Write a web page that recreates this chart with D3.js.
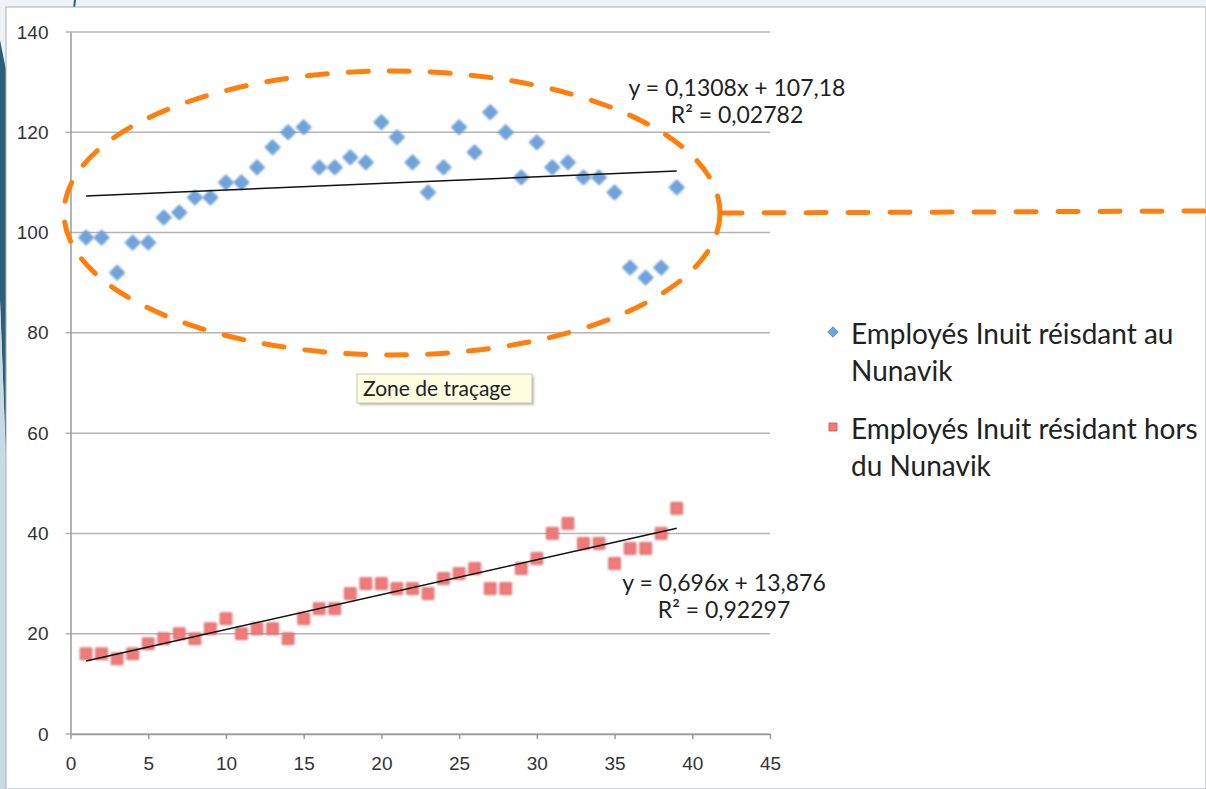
<!DOCTYPE html>
<html>
<head>
<meta charset="utf-8">
<script src="https://cdn.jsdelivr.net/npm/d3@7"></script>
<style>
  body { margin: 0; background: #eef3f6; }
  svg { display: block; font-family: Lato, "Open Sans", sans-serif; }
</style>
</head>
<body>
<svg width="1206" height="789"></svg>
<script>
// données
const xValues = d3.range(1, 40);
const inuitNunavik = [99, 99, 92, 98, 98, 103, 104, 107, 107, 110, 110, 113, 117, 120, 121, 113, 113, 115, 114, 122,
                      119, 114, 108, 113, 121, 116, 124, 120, 111, 118, 113, 114, 111, 111, 108, 93, 91, 93, 109];
const inuitHors = [16, 16, 15, 16, 18, 19, 20, 19, 21, 23, 20, 21, 21, 19, 23, 25, 25, 28, 30, 30,
                   29, 29, 28, 31, 32, 33, 29, 29, 33, 35, 40, 42, 38, 38, 34, 37, 37, 40, 45];
const trendNunavik = { slope: 0.1308, intercept: 107.18 };
const trendHors = { slope: 0.696, intercept: 13.876 };
const labelsNunavik = ["y = 0,1308x + 107,18", "R² = 0,02782"];
const labelsHors = ["y = 0,696x + 13,876", "R² = 0,92297"];
const xTicks = [0, 5, 10, 15, 20, 25, 30, 35, 40, 45];
const yTicks = [0, 20, 40, 60, 80, 100, 120, 140];
const legendNames = [["Employés Inuit réisdant au", "Nunavik"], ["Employés Inuit résidant hors", "du Nunavik"]];

const svg = d3.select("svg");
const width = +svg.attr("width");
const height = +svg.attr("height");

// fond et décor du bord gauche
svg.append("rect").attr("width", width).attr("height", height).attr("fill", "#eef3f6");
svg.append("path").attr("d", "M0,40 L6,70 L6,460 L0,300 Z").attr("fill", "#2f5f78");
svg.append("path").attr("d", "M0,300 L6,460 L6,789 L0,789 Z").attr("fill", "#c9dae4");
svg.append("path").attr("d", "M74,0 L76,0 L75,8 L73,8 Z").attr("fill", "#2f5f78");
svg.append("rect").attr("x", 6).attr("y", 7).attr("width", width - 6).attr("height", height - 7)
    .attr("fill", "#fff").attr("stroke", "#a9b0b5").attr("stroke-width", 1);

const x = d3.scaleLinear().domain([0, 45]).range([70.5, 770]);
const y = d3.scaleLinear().domain([0, 140]).range([734, 32]);

// quadrillage
svg.append("g")
    .selectAll("line")
    .data(yTicks)
    .join("line")
    .attr("x1", x(0) - 5)
    .attr("x2", x(45))
    .attr("y1", d => y(d))
    .attr("y2", d => y(d))
    .attr("stroke", "#b4b4b4")
    .attr("stroke-width", 1.5);

// axes
const yAxis = svg.append("g").attr("transform", `translate(${x(0)},0)`)
    .call(d3.axisLeft(y).tickValues(yTicks).tickSize(0).tickPadding(22));
yAxis.select(".domain").attr("stroke", "#9a9a9a").attr("stroke-width", 1.5);
yAxis.selectAll("text").attr("font-size", 19).attr("fill", "#333");

const xAxis = svg.append("g").attr("transform", `translate(0,${y(0)})`)
    .call(d3.axisBottom(x).tickValues(xTicks).tickSize(5).tickPadding(18).tickSizeOuter(0));
xAxis.select(".domain").attr("stroke", "#9a9a9a").attr("stroke-width", 1.5);
xAxis.selectAll(".tick line").attr("stroke", "#9a9a9a").attr("stroke-width", 1.5);
xAxis.selectAll("text").attr("font-size", 19).attr("fill", "#333");

// ombre douce des marqueurs
const defs = svg.append("defs");
defs.append("filter").attr("id", "flou")
    .attr("x", "-50%").attr("y", "-50%").attr("width", "200%").attr("height", "200%")
    .append("feGaussianBlur").attr("stdDeviation", 0.8);

const diamond = d3.symbol().type(d3.symbolDiamond2).size(150);
const square = d3.symbol().type(d3.symbolSquare2).size(170);

svg.append("g")
    .selectAll("path")
    .data(inuitNunavik)
    .join("path")
    .attr("d", diamond)
    .attr("transform", (d, i) => `translate(${x(xValues[i])},${y(d)})`)
    .attr("fill", "#6fa3dc")
    .attr("stroke", "#5b8fca")
    .attr("stroke-width", 1)
    .attr("filter", "url(#flou)");

svg.append("g")
    .selectAll("path")
    .data(inuitHors)
    .join("path")
    .attr("d", square)
    .attr("transform", (d, i) => `translate(${x(xValues[i])},${y(d)})`)
    .attr("fill", "#f07a7a")
    .attr("stroke", "#d35c5c")
    .attr("stroke-width", 1)
    .attr("filter", "url(#flou)");

// courbes de tendance
const xFirst = xValues[0];
const xLast = xValues[xValues.length - 1];
[trendNunavik, trendHors].forEach(t => {
    svg.append("line")
        .attr("x1", x(xFirst)).attr("y1", y(t.intercept + t.slope * xFirst))
        .attr("x2", x(xLast)).attr("y2", y(t.intercept + t.slope * xLast))
        .attr("stroke", "#111")
        .attr("stroke-width", 1.5);
});

function equation(lines, cx, cy) {
    svg.append("text")
        .attr("text-anchor", "middle")
        .attr("font-size", 23)
        .attr("fill", "#222")
        .selectAll("tspan")
        .data(lines)
        .join("tspan")
        .attr("x", cx)
        .attr("y", (d, i) => cy + i * 27)
        .text(d => d);
}
equation(labelsNunavik, 737, 96);
equation(labelsHors, 724, 591);

// zone entourée en orange
svg.append("ellipse")
    .attr("cx", 392).attr("cy", 213).attr("rx", 328).attr("ry", 142)
    .attr("fill", "none")
    .attr("stroke", "#ff7f0e")
    .attr("stroke-width", 5)
    .attr("stroke-linecap", "round")
    .attr("stroke-dasharray", "20 21");
svg.append("line")
    .attr("x1", 722).attr("y1", 213).attr("x2", width).attr("y2", 211)
    .attr("stroke", "#ff7f0e")
    .attr("stroke-width", 5)
    .attr("stroke-linecap", "round")
    .attr("stroke-dasharray", "20 22");

// info-bulle
const tip = svg.append("g").attr("transform", "translate(357,374)");
tip.append("rect").attr("x", 2).attr("y", 2).attr("width", 175).attr("height", 29)
    .attr("fill", "#bbb").attr("filter", "url(#flou)");
tip.append("rect").attr("width", 175).attr("height", 29)
    .attr("fill", "#fefee0").attr("stroke", "#c8c8b0");
tip.append("text").attr("x", 6).attr("y", 22).attr("font-size", 21).attr("fill", "#222")
    .text("Zone de traçage");

// légende
const legend = svg.append("g").attr("transform", "translate(833,0)");
const legendY = [332, 427];
legendNames.forEach((lines, k) => {
    legend.append("path")
        .attr("d", k === 0 ? d3.symbol().type(d3.symbolDiamond2).size(70)() : d3.symbol().type(d3.symbolSquare2).size(80)())
        .attr("transform", `translate(0,${legendY[k]})`)
        .attr("fill", k === 0 ? "#6fa3dc" : "#f07a7a")
        .attr("stroke", k === 0 ? "#5b8fca" : "#d35c5c");
    legend.append("text")
        .attr("font-size", 28)
        .attr("fill", "#222")
        .selectAll("tspan")
        .data(lines)
        .join("tspan")
        .attr("x", 18)
        .attr("y", (d, i) => legendY[k] + 12 + i * 37)
        .text(d => d);
});
</script>
</body>
</html>
